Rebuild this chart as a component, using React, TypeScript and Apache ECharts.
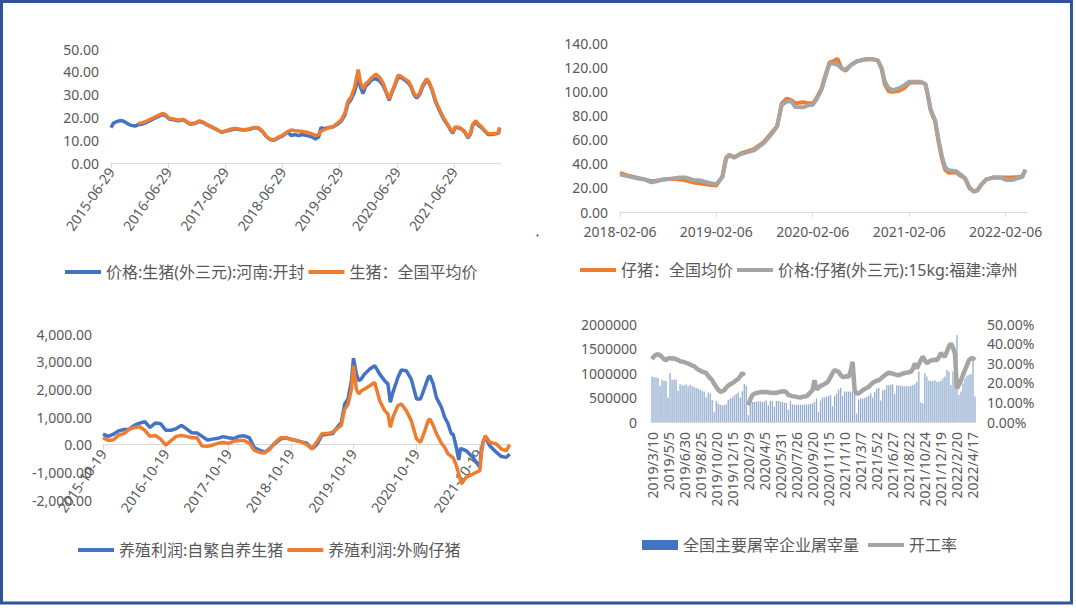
import React, { useEffect, useRef } from 'react';
import * as echarts from 'echarts';

// ---------- Panel 1: 生猪价格 ----------
const p1Ticks = ['2015-06-29', '2016-06-29', '2017-06-29', '2018-06-29', '2019-06-29', '2020-06-29', '2021-06-29'];
const p1Dates = ['2015-06-29','2015-07-15','2015-08-01','2015-08-20','2015-09-10','2015-10-01','2015-10-20','2015-11-05','2015-12-01','2015-12-20',
'2016-01-10','2016-02-01','2016-03-01','2016-04-01','2016-05-01','2016-05-25','2016-06-15','2016-07-05','2016-08-01','2016-09-01',
'2016-10-01','2016-10-20','2016-11-15','2016-12-15','2017-01-15','2017-02-10','2017-03-10','2017-04-10','2017-05-10','2017-06-05',
'2017-07-01','2017-08-01','2017-09-01','2017-10-01','2017-11-01','2017-12-01','2018-01-01','2018-01-25','2018-02-20','2018-03-15',
'2018-04-10','2018-05-05','2018-06-01','2018-07-01','2018-08-01','2018-08-25','2018-09-15','2018-10-10','2018-11-01','2018-12-01',
'2019-01-01','2019-01-25','2019-02-15','2019-03-01','2019-03-20','2019-04-15','2019-05-15','2019-06-15','2019-07-10','2019-08-01',
'2019-08-20','2019-09-10','2019-10-01','2019-10-25','2019-11-10','2019-11-25','2019-12-10','2020-01-01','2020-01-20','2020-02-15',
'2020-03-10','2020-04-01','2020-04-20','2020-05-10','2020-05-25','2020-06-15','2020-07-05','2020-07-25','2020-08-15','2020-09-10',
'2020-09-25','2020-10-15','2020-11-01','2020-11-20','2020-12-10','2021-01-05','2021-01-20','2021-02-10','2021-03-01','2021-03-20',
'2021-04-10','2021-04-25','2021-05-15','2021-06-05','2021-06-20','2021-07-05','2021-07-25','2021-08-15','2021-09-05','2021-09-25',
'2021-10-10','2021-10-25','2021-11-15','2021-12-01','2021-12-20','2022-01-10','2022-02-01','2022-02-25','2022-03-20','2022-04-08',
'2022-04-15'];
const p1Kaifeng = [15.5,17.5,18,18.5,18.5,17.8,17,16.5,16.2,16.8,
17,17.5,18.5,19.5,20.5,21.3,20.5,19.3,19,18.5,
19,18.2,17,17.3,18.2,17.6,16.5,15.5,14.5,13.5,
14,14.5,15,14.6,14.5,14.8,15.5,15.3,13.8,11.8,
10.3,10,11,12,13.5,12,12.5,12,12.5,12,
11.5,10.5,11.5,15.5,15,15.5,15.8,17,18.5,21,
26,28,31,37,33,30.5,33.5,35,36.5,37,
36,34,31,27.5,30.5,34,37.5,37.5,36.5,35,
33.5,30,28.5,30,33.5,36.5,35,31.5,27,24,
21,19,17,14.5,13,15.5,15.5,14.8,13.5,11,
12.5,16.5,18,16.5,15.5,14,12.5,12.5,12.8,13,
15.5];
const p1National = [null,null,null,null,null,null,null,null,null,17.3,
17.6,18,19,20,21,21.8,21,19.6,19.3,18.8,
19.2,18.4,17.2,17.5,18.5,17.8,16.6,15.6,14.4,13.6,
14.1,14.8,15.2,14.8,14.6,15,15.6,15.5,14,11.8,
10.5,10.2,11.3,12.3,13.8,14.5,14.2,14,13.8,13.5,
12.8,12,12.5,14,14.5,15.5,15.8,17.5,19,22,
27,29,33,41,35,32.5,34.5,36,37.5,39,
37.5,35,31.5,28,31,34.5,38.5,38,37,35.8,
34,30.5,29.2,30.5,34.2,37,35.5,32,27.5,24.5,
21.5,19.5,17.2,15,13.3,15.8,15.7,15,13.8,11.3,
12.8,17,18.5,17,16,14.3,12.8,12.8,13,13.2,
15.5];

// ---------- Panel 2: 仔猪价格 ----------
const p2Ticks = ['2018-02-06', '2019-02-06', '2020-02-06', '2021-02-06', '2022-02-06'];
const p2Dates = ['2018-02-06','2018-03-10','2018-04-10','2018-05-10','2018-06-05','2018-06-25','2018-07-20','2018-08-20','2018-09-20','2018-10-15',
'2018-11-10','2018-12-10','2019-01-10','2019-02-06','2019-03-01','2019-03-15','2019-03-27','2019-04-15','2019-05-10','2019-06-29',
'2019-08-05','2019-09-05','2019-09-24','2019-10-12','2019-10-31','2019-11-18','2019-12-01','2019-12-31','2020-01-25','2020-02-06',
'2020-02-20','2020-03-10','2020-03-25','2020-04-10','2020-04-25','2020-05-10','2020-05-25','2020-06-10','2020-07-01','2020-07-25',
'2020-08-25','2020-09-20','2020-10-10','2020-10-25','2020-11-05','2020-11-20','2020-12-05','2020-12-30','2021-01-20','2021-02-06',
'2021-03-20','2021-04-08','2021-04-15','2021-04-28','2021-05-15','2021-05-28','2021-06-10','2021-06-22','2021-07-05','2021-08-01',
'2021-08-20','2021-09-05','2021-09-22','2021-10-08','2021-10-22','2021-11-05','2021-11-25','2021-12-20','2022-01-20','2022-02-06',
'2022-03-01','2022-03-25','2022-04-10','2022-04-22'];
const p2Zhangzhou = [31,29.5,28,27,24.5,25.5,27,27.5,28.5,28.5,
26.5,26,24,23,29,44,47,45.7,48,51,
57,65,70.7,88.7,91.5,91.5,87,86.7,88.7,88.7,
93,101,112,123,123,122,119,118,122,125,
126.5,126.5,125.6,119,108,102.6,101,102.6,105.3,108,
108,106,100,85,76,60,46,37,34.5,34,
31,28,20,17,18,22.5,27,28.5,28.5,26.5,
26.5,28,29,35];
const p2National = [32.5,30,28.5,27,25.5,26,27,27.5,27,26,
24.5,23.5,22.5,22,29.5,45,47.5,45,48.5,52,
58,66,71,90,94,92.5,90,91,90,90,
94,102,113,124,125,127,119,117,122,125,
126.5,126.5,125.6,118,106,100,99.5,100.5,103,107,
107.5,106,99,84,75,58,44,35,32.5,33,
30,28,20,17,18,22.5,27,28.5,28.5,28.5,
28.5,29,29.5,35];

// ---------- Panel 3: 养殖利润 ----------
const p3Ticks = ['2015-10-19', '2016-10-19', '2017-10-19', '2018-10-19', '2019-10-19', '2020-10-19', '2021-10-19'];
const p3Dates = ['2015-10-19','2015-11-19','2015-12-19','2016-01-19','2016-02-19','2016-03-19','2016-04-19','2016-05-19','2016-06-19','2016-07-19',
'2016-08-19','2016-09-19','2016-10-19','2016-11-19','2016-12-19','2017-01-19','2017-02-19','2017-03-19','2017-04-19','2017-05-19',
'2017-06-19','2017-07-19','2017-08-19','2017-09-19','2017-10-19','2017-11-19','2017-12-19','2018-01-19','2018-02-19','2018-03-19',
'2018-04-19','2018-05-19','2018-06-19','2018-07-19','2018-08-19','2018-09-19','2018-10-19','2018-11-19','2018-12-19','2019-01-19',
'2019-02-19','2019-03-19','2019-04-19','2019-05-19','2019-06-19','2019-07-19','2019-08-09','2019-08-29','2019-09-17','2019-10-07',
'2019-10-19','2019-11-05','2019-11-19','2019-12-04','2019-12-23','2020-01-22','2020-02-20','2020-03-20','2020-04-18','2020-05-07',
'2020-05-21','2020-06-05','2020-07-04','2020-07-24','2020-08-22','2020-09-20','2020-10-21','2020-11-13','2020-12-08','2020-12-28',
'2021-01-07','2021-01-26','2021-02-14','2021-03-15','2021-04-03','2021-04-23','2021-05-12','2021-05-22','2021-06-10','2021-06-24',
'2021-07-05','2021-07-09','2021-08-07','2021-09-15','2021-10-25','2021-11-03','2021-11-13','2021-11-26','2021-12-22','2022-01-30',
'2022-02-28','2022-03-29','2022-04-17'];
const p3SelfBred = [380,300,380,500,550,560,700,780,830,620,
780,760,520,520,580,700,560,430,420,300,
170,200,230,290,250,220,300,320,250,-100,
-200,-280,-130,50,200,250,200,150,100,50,
-150,0,350,380,400,650,800,1470,1650,2310,
3130,2550,2310,2380,2550,2735,2855,2550,2310,2190,
1530,1890,2430,2700,2675,2370,1650,1650,2070,2430,
2490,2200,1700,1350,990,750,385,390,-100,-550,
-120,-150,-220,-460,-820,-200,100,265,-40,-280,
-430,-460,-340];
const p3Purchased = [250,150,180,350,400,550,620,650,520,300,
330,200,-20,150,300,330,300,250,250,-50,
-60,-20,50,80,50,120,150,150,50,-200,
-280,-300,-150,80,250,250,180,150,100,0,
-150,100,400,400,450,600,700,1290,1450,2000,
2850,2000,1830,1950,2010,2130,2250,1590,1230,1110,
630,990,1410,1470,1230,870,205,85,500,870,
930,700,400,50,-100,-340,-420,-470,-750,-1060,
-1300,-1420,-1180,-1060,-940,-340,100,325,85,25,
-160,-220,0];

// ---------- Panel 4: 屠宰量 / 开工率 ----------
const p4StartWeek = '2019-03-10';
const p4SkippedWeeks = ['2021-10-03', '2022-02-06'];
const p4Slaughter = [930000,920000,910000,900000,730000,860000,840000,840000,500000,1000000,
860000,860000,860000,640000,770000,750000,750000,770000,730000,760000,
730000,710000,700000,680000,660000,640000,620000,500000,600000,580000,
450000,200000,430000,380000,350000,340000,340000,360000,450000,480000,
500000,540000,570000,600000,500000,630000,780000,740000,140000,360000,
410000,410000,420000,420000,420000,410000,420000,440000,340000,430000,
430000,310000,430000,430000,420000,410000,390000,390000,250000,430000,
360000,350000,350000,350000,350000,350000,350000,360000,360000,370000,
380000,410000,480000,200000,440000,500000,500000,520000,530000,550000,
320000,530000,580000,660000,700000,530000,620000,620000,620000,620000,
620000,620000,170000,460000,480000,480000,490000,510000,530000,580000,
500000,610000,680000,700000,440000,650000,660000,750000,750000,760000,
770000,570000,750000,740000,740000,730000,730000,730000,730000,740000,
750000,770000,820000,1030000,400000,380000,1000000,930000,840000,840000,
830000,850000,820000,820000,840000,890000,930000,1060000,1030000,750000,
1030000,930000,1770000,550000,620000,790000,890000,950000,960000,980000,
1240000,520000];
const p4Rate = [32.0,33.5,34.2,34.6,34.0,33.2,32.0,31.5,32.4,32.6,
32.3,32.5,32.0,31.6,31.0,30.8,30.6,30.2,29.9,29.3,
28.8,28.5,27.6,26.8,26.3,25.6,25.4,25.0,23.5,22.4,
21.3,19.5,17.9,16.5,15.4,15.8,16.2,17.5,18.6,19.3,
19.8,20.5,21.3,22.0,23.4,25.1,23.6,null,8.5,11.5,
13.7,14.4,14.8,15.0,15.2,15.3,15.2,15.4,15.0,15.0,
14.8,14.9,14.8,15.2,15.4,15.6,15.7,15.2,13.7,13.5,
13.2,13.0,12.8,12.6,12.5,12.8,13.0,13.1,14.0,15.2,
16.2,21.3,16.6,17.5,18.4,18.8,19.4,20.0,21.0,23.0,
25.0,26.5,26.0,25.6,24.0,23.0,23.0,23.4,23.0,26.0,
30.7,16.2,14.5,14.5,15.3,16.2,16.8,17.4,17.9,19.0,
20.0,20.5,21.0,21.3,22.0,23.0,23.8,24.5,25.1,24.9,
24.7,24.3,24.0,23.9,24.3,24.7,25.0,25.2,25.4,25.6,
27.0,29.9,27.3,29.5,31.5,33.3,31.5,29.9,30.8,31.4,
31.6,31.8,31.6,33.0,35.3,34.0,33.3,36.0,38.4,40.1,
38.0,35.0,17.1,19.0,21.3,24.0,26.5,29.0,31.6,32.4,
32.6,31.6];

// ---------- helpers ----------
const pad = (n: number) => (n < 10 ? '0' + n : '' + n);
const ts = (s: string) => {
  const [y, m, d] = s.split('-').map(Number);
  return new Date(y, m - 1, d).getTime();
};
const fmtDate = (v: number) => {
  const d = new Date(v);
  return `${d.getFullYear()}-${pad(d.getMonth() + 1)}-${pad(d.getDate())}`;
};
const weekCategories = (start: string, skipped: string[], count: number) => {
  const out: string[] = [];
  const [y, m, d0] = start.split('-').map(Number);
  const d = new Date(y, m - 1, d0);
  while (out.length < count) {
    const key = `${d.getFullYear()}-${pad(d.getMonth() + 1)}-${pad(d.getDate())}`;
    if (!skipped.includes(key)) out.push(`${d.getFullYear()}/${d.getMonth() + 1}/${d.getDate()}`);
    d.setDate(d.getDate() + 7);
  }
  return out;
};
const pairs = (dates: string[], vals: (number | null)[]) =>
  dates.map((s, i) => [ts(s), vals[i]]).filter((p) => p[1] !== null);

const p4Categories = weekCategories(p4StartWeek, p4SkippedWeeks, p4Slaughter.length);

const FONT = "'Noto Sans', 'Noto Sans CJK SC', sans-serif";
const LABEL = '#595959';
const AXIS = '#D9D9D9';
const BLUE = '#4472C4';
const ORANGE = '#ED7D31';
const GREY = '#A5A5A5';

// Panel 3 grid geometry: the date axis sits on the zero line of the profit axis
const P3_TOP = 334;
const P3_HEIGHT = 166;
const P3_MIN = -2000;
const P3_MAX = 4000;
const p3ZeroOffset = -(P3_HEIGHT * (0 - P3_MIN)) / (P3_MAX - P3_MIN);

// date axes are numeric (timestamps) with the tick dates placed explicitly
const dateX = (gridIndex: number, ticks: string[], min: string, max: string, rotate: number, margin: number, offset = 0) => ({
  type: 'value',
  gridIndex,
  min: ts(min),
  max: ts(max),
  position: 'bottom',
  offset,
  axisLine: { show: true, onZero: false, lineStyle: { color: AXIS, width: 1 } },
  axisTick: { show: true, customValues: ticks.map(ts), length: 5, lineStyle: { color: AXIS } },
  axisLabel: {
    customValues: ticks.map(ts),
    formatter: (v: number) => fmtDate(v),
    rotate,
    color: LABEL,
    fontSize: 14,
    fontFamily: FONT,
    margin,
  },
  splitLine: { show: false },
  minorTick: { show: false },
});

const valY = (gridIndex: number, min: number, max: number, interval: number, formatter: (v: number) => string, margin: number, position?: string) => ({
  type: 'value',
  gridIndex,
  min,
  max,
  interval,
  position,
  axisLine: { show: false },
  axisTick: { show: false },
  splitLine: { show: false },
  axisLabel: { formatter, color: LABEL, fontSize: 14, fontFamily: FONT, margin },
});

const lineSeries = (name: string, xi: number, yi: number, data: any[], color: string, width: number) => ({
  type: 'line',
  name,
  xAxisIndex: xi,
  yAxisIndex: yi,
  data,
  color,
  symbol: 'none',
  showSymbol: false,
  lineStyle: { color, width },
  connectNulls: false,
});

const legend = (left: number, top: number, names: any[], itemHeight: number) => ({
  left,
  top,
  padding: 0,
  itemWidth: 36,
  itemHeight,
  itemGap: 4,
  icon: 'rect',
  selectedMode: false,
  data: names,
  textStyle: { color: LABEL, fontSize: 16, fontFamily: FONT },
});

const commas = (v: number) =>
  v.toLocaleString('en-US', { minimumFractionDigits: 2, maximumFractionDigits: 2 });

export default function App() {
  const ref = useRef<HTMLDivElement>(null);
  useEffect(() => {
    if (!ref.current) return;
    const chart = echarts.init(ref.current, null, { renderer: 'svg' });
    const option: any = {
      animation: false,
      backgroundColor: '#ffffff',
      grid: [
        { left: 111, top: 49, width: 390, height: 114, outerBoundsMode: 'none', containLabel: false },
        { left: 620, top: 43, width: 407, height: 169, outerBoundsMode: 'none', containLabel: false },
        { left: 103, top: P3_TOP, width: 407, height: P3_HEIGHT, outerBoundsMode: 'none', containLabel: false },
        { left: 651, top: 324, width: 325, height: 98, outerBoundsMode: 'none', containLabel: false },
      ],
      xAxis: [
        dateX(0, p1Ticks, '2015-06-29', '2022-04-24', 55, 6),
        dateX(1, p2Ticks, '2018-02-06', '2022-04-28', 0, 12),
        dateX(2, p3Ticks, '2015-10-19', '2022-04-19', 55, 6, p3ZeroOffset),
        {
          type: 'category',
          gridIndex: 3,
          data: p4Categories,
          axisLine: { show: true, lineStyle: { color: AXIS } },
          axisTick: { show: false },
          axisLabel: { interval: 7, rotate: 90, color: LABEL, fontSize: 14, fontFamily: FONT, margin: 10 },
          splitLine: { show: false },
        },
      ],
      yAxis: [
        valY(0, 0, 50, 10, (v) => v.toFixed(2), 12),
        valY(1, 0, 140, 20, (v) => v.toFixed(2), 12),
        valY(2, P3_MIN, P3_MAX, 1000, commas, 11),
        valY(3, 0, 2000000, 500000, (v) => String(v), 14),
        valY(3, 0, 50, 10, (v) => v.toFixed(2) + '%', 11, 'right'),
      ],
      legend: [
        legend(65, 264, ['价格:生猪(外三元):河南:开封', '生猪：全国平均价'], 4),
        legend(580, 262, ['仔猪：全国均价', '价格:仔猪(外三元):15kg:福建:漳州'], 4),
        legend(78, 542, ['养殖利润:自繁自养生猪', '养殖利润:外购仔猪'], 4),
        legend(642, 537, [{ name: '全国主要屠宰企业屠宰量', itemStyle: { color: BLUE } }], 10),
        legend(868, 537, ['开工率'], 4),
      ],
      series: [
        lineSeries('价格:生猪(外三元):河南:开封', 0, 0, pairs(p1Dates, p1Kaifeng), BLUE, 3.5),
        lineSeries('生猪：全国平均价', 0, 0, pairs(p1Dates, p1National), ORANGE, 3.5),
        lineSeries('仔猪：全国均价', 1, 1, pairs(p2Dates, p2National), ORANGE, 4),
        lineSeries('价格:仔猪(外三元):15kg:福建:漳州', 1, 1, pairs(p2Dates, p2Zhangzhou), GREY, 4),
        lineSeries('养殖利润:自繁自养生猪', 2, 2, pairs(p3Dates, p3SelfBred), BLUE, 3.5),
        lineSeries('养殖利润:外购仔猪', 2, 2, pairs(p3Dates, p3Purchased), ORANGE, 3.5),
        {
          type: 'bar',
          name: '全国主要屠宰企业屠宰量',
          xAxisIndex: 3,
          yAxisIndex: 3,
          data: p4Slaughter,
          barWidth: 1.3,
          itemStyle: { color: '#93AED0' },
        },
        lineSeries('开工率', 3, 4, p4Rate, GREY, 4.5),
      ],
      graphic: [
        {
          type: 'rect',
          shape: { x: 1.5, y: 1.5, width: 1070, height: 601.5 },
          style: { fill: 'none', stroke: '#2F5597', lineWidth: 3 },
          silent: true,
        },
        { type: 'circle', shape: { cx: 537.5, cy: 235.5, r: 1 }, style: { fill: '#2F5597' }, silent: true },
      ],
    };
    chart.setOption(option);
    return () => chart.dispose();
  }, []);
  return <div ref={ref} style={{ position: 'absolute', left: 0, top: 0, width: 1076, height: 608 }} />;
}
